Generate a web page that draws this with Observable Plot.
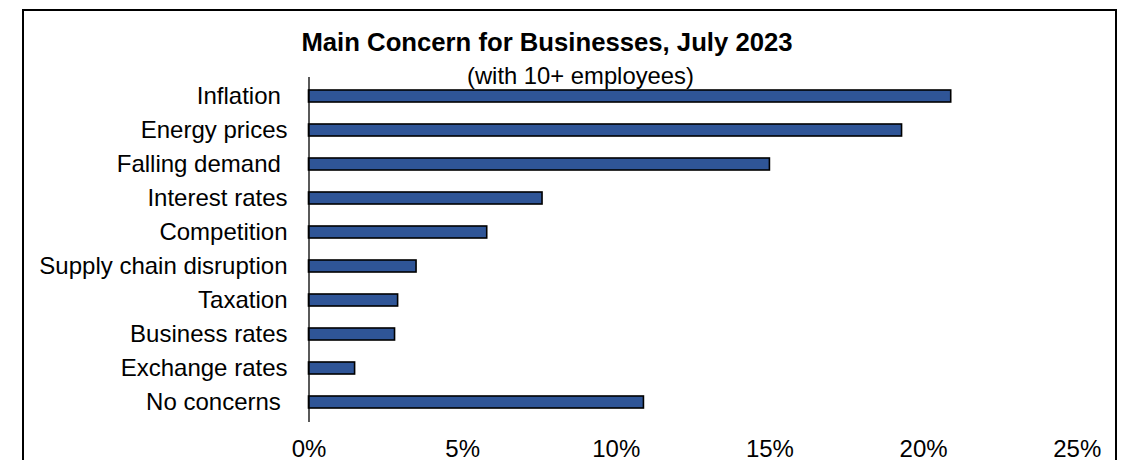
<!DOCTYPE html>
<html>
<head>
<meta charset="utf-8">
<script src="https://cdn.jsdelivr.net/npm/d3@7"></script>
<script src="https://cdn.jsdelivr.net/npm/@observablehq/plot@0.6"></script>
<style>
  html, body { margin: 0; padding: 0; background: #fff; }
  #wrap { position: relative; width: 1125px; height: 460px; overflow: hidden; font-family: Arial, "Liberation Sans", sans-serif; }
  #frame { position: absolute; left: 22px; top: 9px; width: 1095px; height: 470px; border: 2px solid #000; box-sizing: border-box; }
  #title { position: absolute; left: 0; width: 1094px; top: 27px; text-align: center; font-weight: bold; font-size: 25.7px; line-height: 30px; color: #000; }
  #subtitle { position: absolute; left: 467px; top: 63px; font-size: 23.8px; line-height: 26px; color: #000; white-space: nowrap; }
  #chart { position: absolute; left: 0; top: 0; }
</style>
</head>
<body>
<div id="wrap">
  <div id="frame"></div>
  <div id="chart"></div>
  <div id="title">Main Concern for Businesses, July 2023</div>
  <div id="subtitle">(with 10+ employees)</div>
</div>
<script>
const categories = [
  "Inflation\u00a0",
  "Energy prices",
  "Falling demand\u00a0",
  "Interest rates",
  "Competition",
  "Supply chain disruption",
  "Taxation",
  "Business rates",
  "Exchange rates",
  "No concerns\u00a0"
];
const shares = [0.209, 0.193, 0.150, 0.076, 0.058, 0.035, 0.029, 0.028, 0.015, 0.109];
const xTicks = [0, 0.05, 0.10, 0.15, 0.20, 0.25];

const data = categories.map((c, i) => ({category: c, share: shares[i]}));

const chart = Plot.plot({
  width: 1125,
  height: 460,
  marginLeft: 308.5,
  marginRight: 48.3,
  marginTop: 77,
  marginBottom: 38,
  style: { fontFamily: "Arial, 'Liberation Sans', sans-serif", fontSize: "24px", color: "#000", background: "transparent" },
  x: { domain: [0, 0.25], ticks: xTicks, tickFormat: d3.format(".0%"), label: null },
  y: { domain: categories, label: null, paddingInner: 0.64, paddingOuter: 0.32, align: 0.5 },
  marks: [
    Plot.barX(data, { x: "share", y: "category", fill: "#2F5597", stroke: "#000", strokeWidth: 1.6 }),
    Plot.ruleX([0], { stroke: "#000", strokeWidth: 1.3 }),
    Plot.axisX({ ticks: xTicks, tickFormat: d3.format(".0%"), tickSize: 0, tickPadding: 17, label: null, fontSize: 24 }),
    Plot.axisY({ tickSize: 0, tickPadding: 21.5, label: null, fontSize: 24 })
  ]
});
document.getElementById("chart").appendChild(chart);
</script>
</body>
</html>
